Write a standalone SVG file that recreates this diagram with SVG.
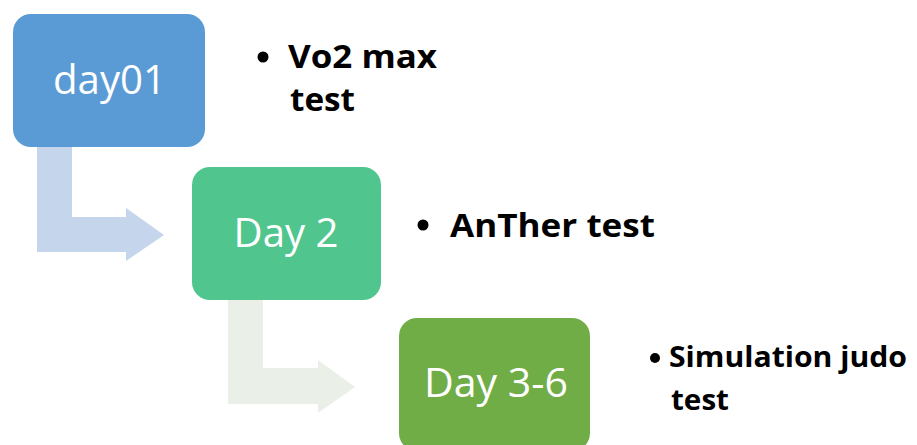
<svg xmlns="http://www.w3.org/2000/svg" width="917" height="445" viewBox="0 0 917 445">
<style>
.box-label{font-family:"Open Sans","Noto Sans","Liberation Sans",sans-serif;font-size:40px;fill:#ffffff;text-anchor:middle}
.bullet-text{font-family:"Open Sans","Noto Sans","Liberation Sans",sans-serif;font-weight:bold;font-size:33px;fill:#000000}
.bullet-small{font-size:28px}
</style>
<rect x="0" y="0" width="917" height="445" fill="#ffffff"/>
<g id="connectors">
<polygon points="37,147 72,147 72,217 126,217 126,208 164,235 126,261 126,252 37,252" fill="#C5D5EB"/>
<polygon points="228,300 263,300 263,368 318,368 318,360 355,387 318,413 318,404 228,404" fill="#EAEFE8"/>
</g>
<g id="day01">
<rect x="13" y="14" width="192" height="133" rx="18" fill="#5B9BD5"/>
<text class="box-label" x="109.5" y="94" textLength="113" lengthAdjust="spacingAndGlyphs">day01</text>
</g>
<g id="day2">
<rect x="192" y="167" width="189" height="133" rx="18" fill="#50C58E"/>
<text class="box-label" x="286" y="247" textLength="105" lengthAdjust="spacingAndGlyphs">Day 2</text>
</g>
<g id="day3-6">
<rect x="399" y="318" width="191" height="133" rx="18" fill="#70AD47"/>
<text class="box-label" x="496" y="397" textLength="144" lengthAdjust="spacingAndGlyphs">Day 3-6</text>
</g>
<g id="note1">
<circle cx="263" cy="57" r="5.5" fill="#000000"/>
<text class="bullet-text" x="288" y="68" textLength="149" lengthAdjust="spacingAndGlyphs">Vo2 max</text>
<text class="bullet-text" x="290" y="111" textLength="65" lengthAdjust="spacingAndGlyphs">test</text>
</g>
<g id="note2">
<circle cx="423" cy="225" r="5.5" fill="#000000"/>
<text class="bullet-text" x="450" y="237" textLength="205" lengthAdjust="spacingAndGlyphs">AnTher test</text>
</g>
<g id="note3">
<circle cx="655" cy="358" r="5" fill="#000000"/>
<text class="bullet-text bullet-small" x="669" y="367" textLength="238" lengthAdjust="spacingAndGlyphs">Simulation judo</text>
<text class="bullet-text bullet-small" x="671" y="410" textLength="58" lengthAdjust="spacingAndGlyphs">test</text>
</g>
</svg>
